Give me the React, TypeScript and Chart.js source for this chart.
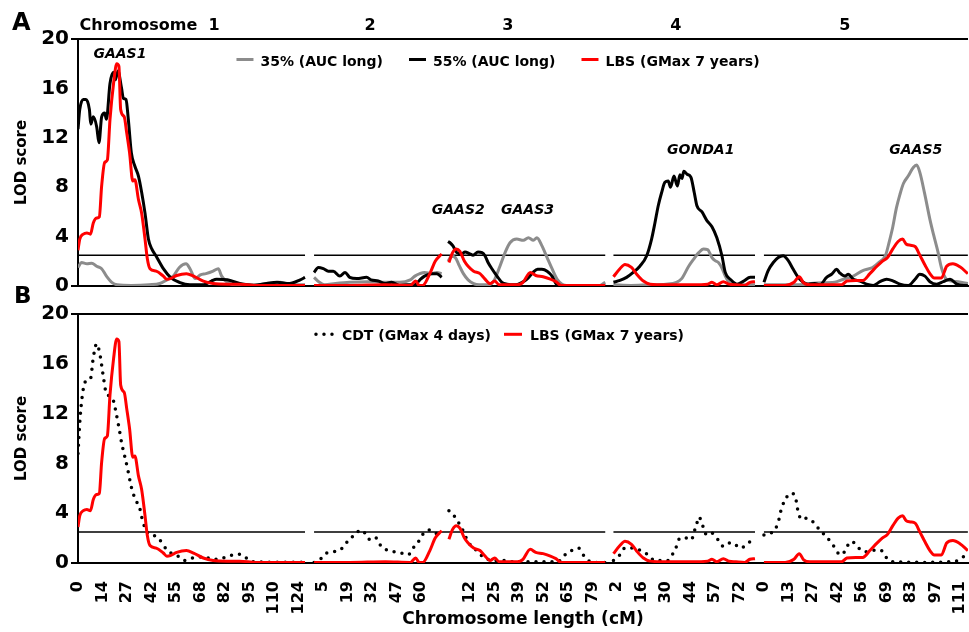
import React, { useEffect, useRef } from 'react';
import { Chart, registerables } from 'chart.js';

Chart.register(...registerables);

const FONT = '"DejaVu Sans", Verdana, sans-serif';
const GRAY = '#8c8c8c';
const RED = '#ff0000';
const BLACK = '#000000';

// ---------- axis / chromosome layout ----------
const CHROMOSOMES = ['1', '2', '3', '4', '5'];
const CHR_LENGTH_CM = [127.7, 71.6, 86, 80.9, 115.5];
// position of 0 cM of each chromosome, in tick-label intervals along the axis
const CHR_ZERO_SLOT = [0, 9.636, 15.104, 21.857, 28];
const CHR_CM_PER_SLOT = [13.78, 13.75, 13.4, 14, 13.875];
const X_TICK_LABELS = [
  '0', '14', '27', '42', '55', '68', '82', '95', '110', '124',
  '5', '19', '32', '47', '60', '',
  '12', '25', '39', '52', '65', '79',
  '2', '16', '30', '44', '57', '72',
  '0', '13', '27', '42', '56', '69', '83', '97', '111',
];
const X_MAX = 36.33;
const Y_MAX = 20;
const Y_STEP = 4;
const THRESHOLD_LOD = 2.5;
const THRESHOLD_GROUPS = [[0], [1, 2], [3], [4]];

// ---------- series names ----------
const NAME_P35 = '35% (AUC long)';
const NAME_P55 = '55% (AUC long)';
const NAME_LBS = 'LBS (GMax 7 years)';
const NAME_CDT = 'CDT (GMax 4 days)';

// ---------- data: [cM, LOD] per chromosome ----------
const CHR1_P35 = [[0,1.5],[2,1.9],[5,1.8],[7.7,1.85],[10.5,1.6],[13.3,1.4],[16,0.8],[19,0.3],[22,0.1],[30,0.05],[40,0.1],[46,0.2],[50,0.5],[53.6,0.8],[57,1.5],[60.8,1.8],[63,1.4],[66,0.6],[68.8,0.9],[72,1.0],[76,1.2],[78.9,1.4],[80.8,0.8],[84,0.3],[88,0.1],[100,0.1],[108,0.2],[113.6,0.3],[118,0.15],[127.7,0.1]];
const CHR2_P35 = [[0,0.7],[3,0.3],[6,0.1],[12,0.2],[20,0.3],[30,0.35],[40,0.3],[48,0.3],[54,0.5],[56.6,0.8],[59.4,1.0],[62,1.1],[66,1.0],[69,1.1],[71.6,1.0]];
const CHR3_P35 = [[0,2.0],[2,2.4],[4,2.3],[6,1.7],[8.4,1.0],[11,0.5],[14,0.2],[17,0.1],[22,0.1],[25,0.4],[28.4,1.6],[31.2,2.7],[33.9,3.5],[37.6,3.8],[41.2,3.7],[44,3.9],[46.7,3.7],[48.6,3.9],[51.4,3.25],[54.2,2.3],[56.9,1.4],[59.7,0.55],[62.4,0.15],[65,0.05],[83,0.05],[86,0.3]];
const CHR4_P35 = [[0,0.1],[10,0.05],[20,0.1],[30,0.15],[36,0.3],[39,0.6],[43,1.6],[46,2.2],[48.7,2.7],[51.5,3.0],[53.8,2.95],[56.3,2.3],[58.1,2.05],[60,1.9],[62,1.45],[63.9,0.8],[66.7,0.2],[70,0.1],[80.9,0.1]];
const CHR5_P35 = [[0,0.1],[20,0.1],[30,0.25],[40,0.3],[45,0.55],[50.6,0.8],[56,1.25],[61.5,1.5],[65,1.9],[68.9,2.5],[71,3.6],[73,4.8],[75,6.3],[77,7.4],[79,8.3],[81.7,8.9],[84.6,9.6],[86.5,9.8],[88.3,9.2],[91,7.5],[94,5.4],[96,4.2],[98.5,2.8],[100.5,1.5],[103,0.6],[106,0.4],[110,0.35],[115.5,0.2]];

const CHR1_P55 = [[0,12.7],[1,14.3],[3,15.1],[4.5,15.1],[6.4,14.3],[7.2,13.1],[8.6,13.7],[10.5,12.9],[11.8,11.6],[13.3,13.7],[15,14.0],[16,13.5],[18,16.4],[20,17.3],[21,16.7],[22.5,17.4],[24.5,16.0],[25.5,15.2],[27,15.1],[28.3,13.5],[30,10.8],[32,9.7],[34,8.9],[35.8,7.6],[37.7,5.9],[39.6,3.8],[41.5,3.0],[44,2.4],[48,1.4],[52,0.7],[57,0.3],[63,0.1],[70.5,0.1],[75,0.4],[78,0.55],[84,0.5],[91,0.2],[99,0.05],[106,0.2],[112,0.3],[119,0.2],[125,0.5],[127.7,0.7]];
const CHR2_P55 = [[0,1.1],[2.4,1.5],[5.2,1.4],[8,1.2],[10.8,1.2],[14.5,0.8],[17.4,1.1],[20,0.7],[24,0.6],[29.5,0.7],[32,0.5],[36,0.4],[39.8,0.2],[43.5,0.3],[48,0.05],[52,0.1],[56.6,0.1],[59.4,0.5],[62,0.8],[66,1.0],[69,1.0],[71.6,0.7]];
const CHR3_P55 = [[0,3.6],[1.1,3.5],[2.7,3.25],[4.8,2.7],[7.5,2.6],[9.3,2.75],[12,2.6],[13.7,2.5],[16.4,2.75],[18.6,2.7],[20.2,2.45],[21.9,1.9],[24,1.4],[26.8,0.8],[29.5,0.3],[32.3,0.15],[36.7,0.1],[40.5,0.3],[43.2,0.55],[46.5,1.1],[49,1.35],[51.4,1.35],[54.2,1.2],[56.9,0.8],[58.6,0.3],[60.2,0.05],[86,0.05]];
const CHR4_P55 = [[0,0.3],[3.7,0.45],[7.5,0.7],[11.3,1.1],[15.1,1.6],[19,2.45],[21.8,3.8],[23.7,5.1],[25.6,6.5],[27.5,7.55],[29.4,8.4],[31.3,8.5],[32.6,8.0],[34.6,8.9],[36.5,8.1],[38,9.0],[39.2,8.7],[40.2,9.3],[42.1,9.05],[44.3,8.8],[46.2,7.55],[47.7,6.5],[50.6,6.0],[53.4,5.3],[56.3,4.8],[59.1,3.9],[62,2.45],[63.9,1.1],[66.7,0.55],[70.6,0.15],[74.4,0.4],[78.2,0.7],[80.9,0.7]];
const CHR5_P55 = [[0,0.3],[2.4,1.25],[5.3,1.9],[8.1,2.3],[10.9,2.45],[13.8,2.05],[16.6,1.35],[19.4,0.7],[22.3,0.3],[25,0.15],[28.8,0.2],[31.7,0.1],[35.5,0.7],[38.3,0.95],[41.2,1.35],[43,1.05],[45.9,0.8],[47.8,0.95],[50.6,0.55],[54.4,0.4],[58.1,0.15],[61.9,0.05],[65.7,0.35],[69.5,0.55],[73.3,0.4],[77,0.15],[81.8,0.05],[85.6,0.55],[88.3,0.95],[91.2,0.8],[94,0.35],[97.8,0.15],[101.6,0.35],[105.4,0.55],[109.2,0.15],[113,0.05],[115.5,0.05]];

const CHR1_LBS = [[0,2.9],[1,3.8],[3,4.2],[5,4.3],[7,4.2],[8.6,5.1],[10.5,5.5],[12,5.6],[13.3,8.1],[15,10.0],[16.5,10.2],[18,13.5],[20,16.4],[21.8,18.0],[23,17.8],[24,14.3],[26,13.7],[27.4,12.4],[29,10.8],[30.8,8.5],[32,8.6],[34,7.0],[35.8,5.9],[37.7,3.8],[39,2.2],[40.5,1.4],[44,1.2],[48,0.8],[50,0.55],[52,0.6],[55.5,0.85],[61,1.0],[65,0.8],[70.5,0.4],[76,0.2],[84,0.15],[91,0.15],[100,0.05],[127.7,0.05]];
const CHR2_LBS = [[0,0.05],[20,0.05],[40,0.1],[54,0.05],[57,0.4],[59,0.05],[61,0.05],[65,1.0],[68,2.0],[71.6,2.6]];
const CHR3_LBS = [[0.5,1.9],[2.5,2.7],[4.5,3.0],[6.5,2.8],[9,2.0],[11,1.6],[14,1.2],[17.5,1.0],[20,0.6],[23,0.2],[25.5,0.4],[28,0.1],[38,0.1],[41,0.3],[45,1.1],[48,0.85],[52,0.75],[56,0.55],[59,0.35],[62,0.05],[86,0.05]];
const CHR4_LBS = [[0,0.75],[3.7,1.4],[6.6,1.75],[10.3,1.5],[13.3,0.95],[17.1,0.4],[21,0.15],[30,0.1],[45,0.1],[53.8,0.15],[56.3,0.3],[59,0.1],[62.8,0.35],[66,0.15],[70,0.1],[75,0.05],[78,0.3],[80.9,0.35]];
const CHR5_LBS = [[0,0.05],[12,0.05],[17,0.3],[20,0.75],[22.5,0.25],[26,0.1],[44,0.1],[47,0.4],[52,0.45],[56,0.45],[60,1.0],[64,1.6],[67,2.0],[70,2.3],[73,3.0],[76,3.6],[78.5,3.8],[80.5,3.4],[83,3.3],[85.6,3.2],[88.3,2.5],[91.2,1.7],[94,1.0],[96.5,0.65],[100.5,0.65],[103.5,1.6],[107,1.8],[111,1.55],[115.5,1.0]];

const CHR1_CDT = [[0,8.8],[0.5,10.1],[1.2,11.7],[3,14.0],[5,14.7],[7,14.8],[8.6,16.5],[10.5,17.6],[12.4,16.7],[14,15.2],[16,13.6],[18,13.4],[20,13.0],[21.5,12.0],[23,10.9],[24.6,9.6],[26.4,8.5],[28,7.5],[30,6.1],[32,5.2],[34.7,4.4],[36.5,3.3],[39.4,2.4],[43,2.2],[46,1.85],[49.8,1.1],[53.5,0.7],[57,0.5],[60,0.2],[64.6,0.4],[70.5,0.5],[76,0.3],[81.6,0.4],[87,0.65],[91,0.7],[94.6,0.4],[98,0.1],[127.7,0.05]];
const CHR2_CDT = [[0,0.05],[4.3,0.4],[7,0.8],[11,0.9],[14.5,1.05],[17.4,1.45],[20,2.0],[23,2.2],[25.8,2.65],[28.6,2.4],[31,1.9],[34,2.1],[37.9,1.3],[41.6,1.0],[45,0.9],[49,0.8],[52.8,0.65],[55.6,1.2],[58.5,1.7],[61,2.3],[64,2.65],[68,2.45],[70.8,2.0]];
const CHR3_CDT = [[0.5,4.2],[3,3.85],[5.5,3.3],[8.2,2.6],[10,2.0],[13,1.3],[15.7,1.0],[19,0.5],[25,0.2],[30,0.2],[35,0.1],[60,0.1],[63,0.5],[65.8,0.9],[68.5,1.05],[71.3,1.2],[74,0.65],[76.8,0.2],[80,0.05],[86,0.05]];
const CHR4_CDT = [[0,0.2],[3.7,0.65],[6.6,1.2],[10.3,1.2],[14,1.1],[19.8,0.65],[23.5,0.2],[31,0.2],[34.2,0.8],[36.1,1.35],[38,2.0],[41.8,2.0],[44.6,1.85],[45.9,2.4],[47.4,3.05],[49,3.7],[50.2,3.3],[51.7,2.75],[53.2,2.25],[56.1,2.4],[59.9,1.85],[62.7,1.35],[65.5,1.6],[68.4,1.6],[72.2,1.2],[75,1.35],[79,1.85]];
const CHR5_CDT = [[0,2.25],[2.4,2.4],[5.3,2.5],[8.1,3.3],[10,4.4],[12.9,5.3],[15.1,5.6],[17.5,5.45],[19.4,4.1],[21.3,3.5],[24,3.6],[27.8,3.3],[31.6,2.65],[35.4,2.1],[39.1,1.45],[42,0.8],[43.9,0.65],[46.8,1.2],[48.7,1.7],[51.5,1.6],[54.4,1.1],[58.1,0.9],[63.8,1.05],[67.6,0.9],[69.5,0.4],[73.3,0.1],[90,0.05],[105,0.1],[110,0.2],[113,0.5],[115.5,0.6]];

const P35 = [CHR1_P35, CHR2_P35, CHR3_P35, CHR4_P35, CHR5_P35];
const P55 = [CHR1_P55, CHR2_P55, CHR3_P55, CHR4_P55, CHR5_P55];
const LBS = [CHR1_LBS, CHR2_LBS, CHR3_LBS, CHR4_LBS, CHR5_LBS];
const CDT = [CHR1_CDT, CHR2_CDT, CHR3_CDT, CHR4_CDT, CHR5_CDT];

// ---------- annotations ----------
const HEADER_TEXT = ['Chromosome  ' + CHROMOSOMES[0], CHROMOSOMES[1], CHROMOSOMES[2], CHROMOSOMES[3], CHROMOSOMES[4]];
const HEADER_SLOT = [2.92, 11.92, 17.55, 24.4, 31.3];
const GENE_NAMES = ['GAAS1', 'GAAS2', 'GAAS3', 'GONDA1', 'GAAS5'];
const GENE_CHR = [0, 2, 2, 3, 4];
const GENE_CM = [23.6, 5.6, 43.5, 49.9, 86];
const GENE_LOD = [18.44, 5.8, 5.8, 10.65, 10.65];

function toSlot(chr: number, cm: number) {
  return CHR_ZERO_SLOT[chr] + cm / CHR_CM_PER_SLOT[chr];
}

function buildSeries(perChr: number[][][]) {
  const pts: { x: number; y: number | null }[] = [];
  perChr.forEach((arr, c) => {
    if (c > 0) {
      const gap = (toSlot(c - 1, CHR_LENGTH_CM[c - 1]) + CHR_ZERO_SLOT[c]) / 2;
      pts.push({ x: gap, y: null });
    }
    arr.forEach(([cm, v]) => pts.push({ x: toSlot(c, cm), y: v }));
  });
  return pts;
}

function buildThreshold() {
  const pts: { x: number; y: number | null }[] = [];
  THRESHOLD_GROUPS.forEach((g, i) => {
    const a = toSlot(g[0], 0);
    const b = toSlot(g[g.length - 1], CHR_LENGTH_CM[g[g.length - 1]]);
    if (i > 0) pts.push({ x: a - 0.05, y: null });
    pts.push({ x: a, y: THRESHOLD_LOD });
    pts.push({ x: b, y: THRESHOLD_LOD });
  });
  return pts;
}

function lineDs(label: string, data: any[], color: string, order: number, extra: any = {}) {
  return {
    label,
    data,
    borderColor: color,
    backgroundColor: color,
    borderWidth: 3,
    pointRadius: 0,
    pointHoverRadius: 0,
    fill: false,
    spanGaps: false,
    cubicInterpolationMode: 'monotone',
    order,
    ...extra,
  };
}

function thresholdDs() {
  return {
    label: 'LOD threshold',
    noLegend: true,
    data: buildThreshold(),
    borderColor: BLACK,
    borderWidth: 1.5,
    pointRadius: 0,
    fill: false,
    spanGaps: false,
    tension: 0,
    order: 10,
  };
}

function xScale(showLabels: boolean, height: number) {
  return {
    type: 'linear',
    min: 0,
    max: X_MAX,
    afterBuildTicks: (s: any) => {
      s.ticks = X_TICK_LABELS.map((_, i) => ({ value: i }));
    },
    afterFit: (s: any) => {
      s.height = height;
      s.paddingLeft = 0;
      s.paddingRight = 0;
    },
    ticks: {
      display: showLabels,
      autoSkip: false,
      minRotation: 90,
      maxRotation: 90,
      padding: 10,
      color: BLACK,
      font: { family: FONT, size: 16, weight: 'bold' },
      callback: (_v: any, i: number) => X_TICK_LABELS[i],
    },
    grid: { display: false },
    border: { display: true, color: BLACK, width: 2 },
    title: {
      display: showLabels,
      text: 'Chromosome length (cM)',
      color: BLACK,
      font: { family: FONT, size: 17, weight: 'bold' },
      padding: { top: 2, bottom: 2 },
    },
  };
}

function yScale() {
  return {
    min: 0,
    max: Y_MAX,
    afterFit: (s: any) => {
      s.width = 78;
    },
    ticks: {
      stepSize: Y_STEP,
      padding: 2,
      color: BLACK,
      font: { family: FONT, size: 20, weight: 'bold' },
    },
    grid: {
      drawTicks: true,
      tickLength: 7,
      lineWidth: 2,
      color: (ctx: any) =>
        ctx.tick && (ctx.tick.value === 0 || ctx.tick.value === Y_MAX) ? BLACK : 'rgba(0,0,0,0)',
    },
    border: { display: true, color: BLACK, width: 2 },
    title: {
      display: true,
      text: 'LOD score',
      color: BLACK,
      font: { family: FONT, size: 15, weight: 'bold' },
      padding: { top: 13, bottom: 0 },
    },
  };
}

function legendPlugin(cfg: any) {
  return {
    id: 'panelLegend',
    afterDraw(chart: any) {
      const ctx = chart.ctx;
      ctx.save();
      ctx.font = cfg.font;
      const items = chart.data.datasets.filter((d: any) => !d.noLegend);
      const widths = items.map((d: any) => ctx.measureText(d.label).width);
      const total =
        widths.reduce((a: number, w: number) => a + cfg.sample + cfg.gap + w, 0) +
        cfg.spacing * (items.length - 1);
      let x = cfg.centerX - total / 2;
      items.forEach((d: any, i: number) => {
        ctx.beginPath();
        ctx.strokeStyle = d.borderColor;
        ctx.lineWidth = d.borderWidth;
        ctx.setLineDash(d.borderDash || []);
        ctx.lineCap = d.borderCapStyle || 'butt';
        ctx.moveTo(x, cfg.lineY);
        ctx.lineTo(x + cfg.sample, cfg.lineY);
        ctx.stroke();
        ctx.setLineDash([]);
        ctx.fillStyle = BLACK;
        ctx.textAlign = 'left';
        ctx.textBaseline = 'alphabetic';
        ctx.fillText(d.label, x + cfg.sample + cfg.gap, cfg.baselineY);
        x += cfg.sample + cfg.gap + widths[i] + cfg.spacing;
      });
      ctx.restore();
    },
  };
}

function textPlugin(getItems: (chart: any) => any[]) {
  return {
    id: 'panelText',
    afterDraw(chart: any) {
      const ctx = chart.ctx;
      ctx.save();
      ctx.fillStyle = BLACK;
      ctx.textBaseline = 'alphabetic';
      getItems(chart).forEach((it) => {
        ctx.font = it.font;
        ctx.textAlign = it.align || 'center';
        ctx.fillText(it.text, it.x, it.y);
      });
      ctx.restore();
    },
  };
}

const baseOptions = (padding: any, showX: boolean, xHeight: number) => ({
  responsive: false,
  animation: false,
  devicePixelRatio: 1,
  events: [],
  layout: { padding },
  plugins: { legend: { display: false }, tooltip: { enabled: false }, title: { display: false } },
  scales: { x: xScale(showX, xHeight), y: yScale() },
});

export default function App() {
  const refA = useRef<HTMLCanvasElement>(null);
  const refB = useRef<HTMLCanvasElement>(null);

  useEffect(() => {
    const chartA = new Chart(refA.current as HTMLCanvasElement, {
      type: 'line',
      data: {
        datasets: [
          lineDs(NAME_P35, buildSeries(P35), GRAY, 3),
          lineDs(NAME_P55, buildSeries(P55), BLACK, 2),
          lineDs(NAME_LBS, buildSeries(LBS), RED, 1),
          thresholdDs(),
        ] as any,
      },
      options: baseOptions({ top: 39, bottom: 13, left: 0, right: 1 }, false, 0) as any,
      plugins: [
        legendPlugin({
          centerX: 498,
          lineY: 59.5,
          baselineY: 65.5,
          sample: 17,
          gap: 7,
          spacing: 26,
          font: `bold 14px ${FONT}`,
        }),
        textPlugin((chart) => {
          const x = chart.scales.x;
          const y = chart.scales.y;
          const items: any[] = [
            { text: 'A', x: 12, y: 30, align: 'left', font: `bold 24px ${FONT}` },
          ];
          HEADER_TEXT.forEach((t, i) =>
            items.push({ text: t, x: x.getPixelForValue(HEADER_SLOT[i]), y: 30, font: `bold 16px ${FONT}` })
          );
          GENE_NAMES.forEach((g, i) =>
            items.push({
              text: g,
              x: x.getPixelForValue(toSlot(GENE_CHR[i], GENE_CM[i])),
              y: y.getPixelForValue(GENE_LOD[i]),
              font: `italic bold 14px ${FONT}`,
            })
          );
          return items;
        }),
      ],
    });

    const chartB = new Chart(refB.current as HTMLCanvasElement, {
      type: 'line',
      data: {
        datasets: [
          lineDs(NAME_CDT, buildSeries(CDT), BLACK, 2, {
            borderWidth: 3.5,
            borderDash: [0, 8],
            borderCapStyle: 'round',
          }),
          lineDs(NAME_LBS, buildSeries(LBS), RED, 1),
          thresholdDs(),
        ] as any,
      },
      options: baseOptions({ top: 34, bottom: 0, left: 0, right: 1 }, true, 69) as any,
      plugins: [
        legendPlugin({
          centerX: 500,
          lineY: 54.3,
          baselineY: 60,
          sample: 18,
          gap: 8,
          spacing: 13,
          font: `bold 14px ${FONT}`,
        }),
        textPlugin(() => [{ text: 'B', x: 14, y: 23, align: 'left', font: `bold 23px ${FONT}` }]),
      ],
    });

    return () => {
      chartA.destroy();
      chartB.destroy();
    };
  }, []);

  return (
    <div style={{ position: 'fixed', left: 0, top: 0, width: 969, height: 632, background: '#fff' }}>
      <canvas
        ref={refA}
        width={969}
        height={300}
        style={{ position: 'absolute', left: 0, top: 0, width: 969, height: 300 }}
      />
      <canvas
        ref={refB}
        width={969}
        height={352}
        style={{ position: 'absolute', left: 0, top: 280, width: 969, height: 352 }}
      />
    </div>
  );
}
